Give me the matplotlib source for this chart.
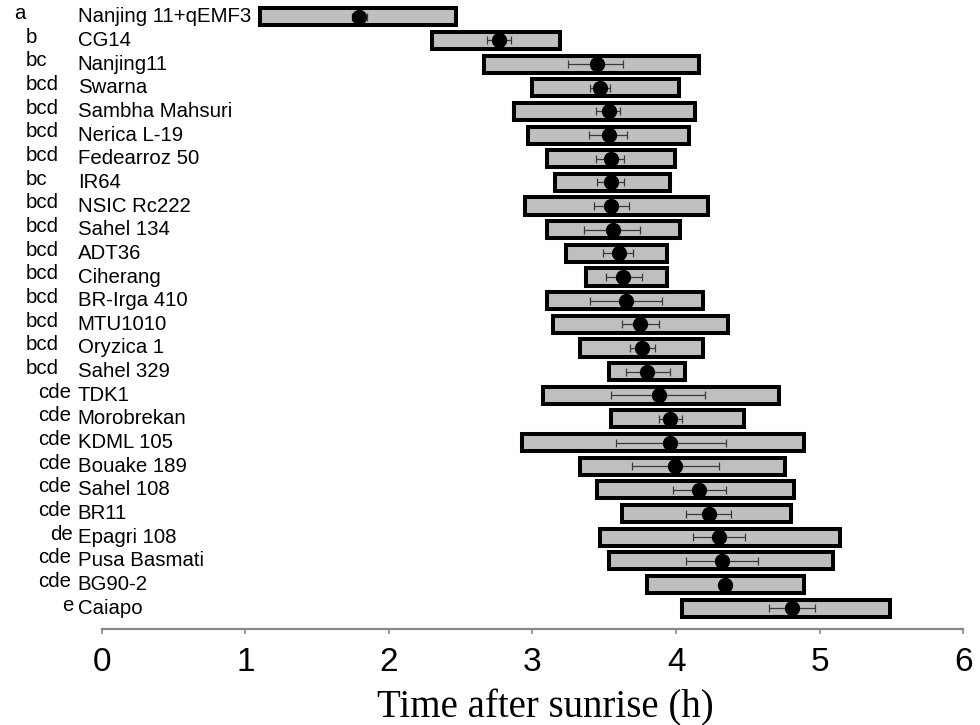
import matplotlib
matplotlib.use("Agg")
import matplotlib.pyplot as plt
import matplotlib.transforms as mtransforms
import numpy as np

varieties = ["Nanjing 11+qEMF3", "CG14", "Nanjing11", "Swarna", "Sambha Mahsuri",
             "Nerica L-19", "Fedearroz 50", "IR64", "NSIC Rc222", "Sahel 134",
             "ADT36", "Ciherang", "BR-Irga 410", "MTU1010", "Oryzica 1",
             "Sahel 329", "TDK1", "Morobrekan", "KDML 105", "Bouake 189",
             "Sahel 108", "BR11", "Epagri 108", "Pusa Basmati", "BG90-2", "Caiapo"]
groups = ["a", "b", "bc", "bcd", "bcd", "bcd", "bcd", "bc", "bcd", "bcd",
          "bcd", "bcd", "bcd", "bcd", "bcd", "bcd", "cde", "cde", "cde", "cde",
          "cde", "cde", "de", "cde", "cde", "e"]
range_start = [1.10, 2.30, 2.66, 3.00, 2.87, 2.97, 3.10, 3.16, 2.95, 3.10,
               3.23, 3.37, 3.10, 3.14, 3.33, 3.53, 3.07, 3.55, 2.93, 3.33,
               3.45, 3.62, 3.47, 3.53, 3.80, 4.04]
range_end = [2.47, 3.19, 4.16, 4.02, 4.13, 4.09, 3.99, 3.96, 4.22, 4.03,
             3.94, 3.94, 4.19, 4.36, 4.19, 4.06, 4.72, 4.47, 4.89, 4.76,
             4.82, 4.80, 5.14, 5.09, 4.89, 5.49]
mean_time = [1.79, 2.77, 3.45, 3.47, 3.53, 3.53, 3.55, 3.55, 3.55, 3.56,
             3.60, 3.63, 3.65, 3.75, 3.76, 3.80, 3.88, 3.96, 3.96, 3.99,
             4.16, 4.23, 4.30, 4.32, 4.34, 4.81]
err_low = [1.74, 2.68, 3.25, 3.40, 3.44, 3.39, 3.44, 3.45, 3.43, 3.36,
           3.49, 3.51, 3.40, 3.62, 3.68, 3.65, 3.55, 3.88, 3.58, 3.69,
           3.98, 4.07, 4.12, 4.07, 4.31, 4.65]
err_high = [1.85, 2.85, 3.63, 3.54, 3.61, 3.66, 3.64, 3.64, 3.67, 3.75,
            3.70, 3.76, 3.90, 3.88, 3.85, 3.96, 4.20, 4.04, 4.35, 4.30,
            4.35, 4.38, 4.48, 4.57, 4.37, 4.97]
x_ticks = [0, 1, 2, 3, 4, 5, 6]
x_label = "Time after sunrise (h)"

W, H = 980, 725
fig = plt.figure(figsize=(W / 100, H / 100), dpi=100)
ax_left, ax_right = 101.7, 963.3
ax_bottom_px = 629.3
ax = fig.add_axes([ax_left / W, 1 - ax_bottom_px / H, (ax_right - ax_left) / W, ax_bottom_px / H])

n = len(varieties)
y = np.arange(n)
start = np.array(range_start)
end = np.array(range_end)
mean = np.array(mean_time)
lo = mean - np.array(err_low)
hi = np.array(err_high) - mean

ax.barh(y, end - start, left=start, height=0.72, color="#C0BFC0",
        edgecolor="black", linewidth=2.9, zorder=2)
ax.errorbar(mean, y, xerr=[lo, hi], fmt="none", ecolor="#3a3a3a",
            elinewidth=0.9, capsize=3, capthick=0.9, zorder=3)
ax.plot(mean, y, "o", color="black", markersize=10, zorder=4)

ax.set_xlim(0, 6)
ax.set_ylim(25.888, -0.706)
for s in ["left", "top", "right"]:
    ax.spines[s].set_visible(False)
ax.spines["bottom"].set_color("#888888")
ax.spines["bottom"].set_linewidth(1.6)
ax.set_yticks([])
ax.set_xticks(x_ticks)
ax.set_xticklabels([str(t) for t in x_ticks], fontsize=24, family="Liberation Sans")
ax.tick_params(axis="x", direction="out", length=3.5, width=1.2, color="#888888", pad=9)

trans = mtransforms.blended_transform_factory(fig.transFigure, ax.transData)
letter_cols = "abcde"
for i, (name, grp) in enumerate(zip(varieties, groups)):
    ax.text(77.7 / W, i, name, transform=trans, fontsize=14.7,
            family="Liberation Sans", ha="left", va="center", clip_on=False)
    k = letter_cols.index(grp[0])
    ax.text((14.0 + 12.1 * k) / W, i - 0.13, grp, transform=trans, fontsize=14.7,
            family="Liberation Sans", ha="left", va="center", clip_on=False)

fig.text(545 / W, 1 - 717 / H, x_label, fontsize=28, family="Liberation Serif",
         ha="center", va="baseline")

fig.savefig("out.png", dpi=100)
